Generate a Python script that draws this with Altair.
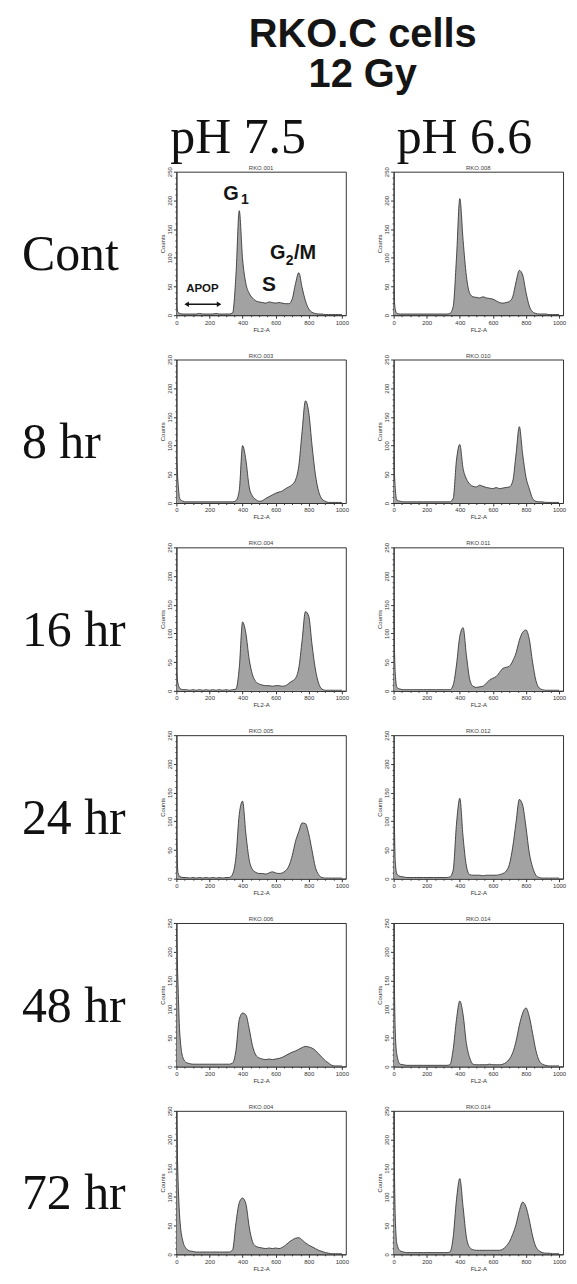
import altair as alt
import pandas as pd

ROWS = ["Cont", "8 hr", "16 hr", "24 hr", "48 hr", "72 hr"]
COLS = ["pH 7.5", "pH 6.6"]
TITLE = ["RKO.C cells", "12 Gy"]

X = [0, 10] + list(range(20, 1001, 20))

CONT_75 = [15, 5,
           3, 2, 2, 2, 2, 2, 3, 2, 2,
           2, 2, 3, 2, 2, 2, 2, 4, 70, 182,
           98, 55, 38, 30, 25, 23, 22, 21, 23, 22,
           21, 22, 21, 20, 20, 28, 55, 74, 48, 25,
           11, 5, 3, 2, 2, 1, 1, 1, 1, 1,
           1]
CONT_66 = [45, 10,
           3, 2, 2, 2, 2, 2, 2, 2, 2,
           2, 2, 2, 2, 2, 2, 2, 3, 15, 100,
           203, 130, 68, 38, 32, 31, 30, 32, 30, 29,
           28, 25, 22, 21, 22, 24, 32, 58, 78, 70,
           40, 16, 6, 3, 2, 2, 2, 1, 1, 1,
           1]
H8_75 = [80, 35,
         8, 3, 2, 2, 2, 2, 2, 2, 2,
         2, 2, 2, 2, 2, 2, 2, 2, 4, 22,
         100, 75, 28, 12, 6, 3, 4, 8, 11, 14,
         17, 19, 21, 25, 28, 32, 40, 65, 125, 178,
         158, 100, 50, 20, 7, 3, 1, 1, 1, 1,
         1]
H8_66 = [85, 25,
         5, 3, 2, 2, 2, 2, 2, 2, 2,
         2, 2, 2, 2, 2, 2, 2, 2, 8, 75,
         102, 60, 42, 33, 29, 28, 31, 29, 27, 26,
         25, 27, 25, 26, 27, 28, 38, 85, 133, 85,
         45, 25, 8, 3, 2, 2, 1, 1, 1, 1,
         1]
H16_75 = [32, 12,
          5, 2, 2, 1, 2, 1, 2, 1, 2,
          1, 2, 1, 2, 1, 2, 1, 2, 3, 40,
          120, 100, 55, 28, 16, 12, 10, 9, 9, 8,
          9, 9, 8, 9, 13, 17, 22, 40, 88, 138,
          130, 80, 38, 13, 3, 1, 1, 1, 1, 1,
          1]
H16_66 = [140, 30,
          6, 3, 2, 2, 2, 2, 2, 2, 2,
          2, 2, 2, 2, 2, 2, 2, 2, 10, 45,
          95, 110, 62, 20, 8, 6, 7, 8, 13, 19,
          22, 25, 32, 39, 41, 43, 52, 66, 88, 102,
          106, 90, 50, 18, 5, 2, 1, 1, 1, 1,
          1]
H24_75 = [70, 10,
          4, 2, 2, 1, 2, 1, 2, 1, 2,
          1, 2, 1, 2, 1, 2, 2, 8, 38, 112,
          135, 78, 33, 16, 11, 9, 9, 8, 10, 12,
          10, 9, 10, 14, 22, 40, 65, 82, 97, 96,
          78, 49, 20, 7, 2, 1, 1, 1, 1, 1,
          1]
H24_66 = [200, 30,
          8, 4, 3, 2, 2, 2, 2, 2, 2,
          2, 2, 2, 2, 2, 2, 2, 3, 15, 95,
          140, 72, 22, 7, 6, 6, 6, 5, 6, 6,
          6, 6, 7, 9, 13, 25, 55, 98, 138, 128,
          90, 45, 20, 6, 2, 1, 1, 1, 1, 1,
          1]
H48_75 = [240, 140,
          60, 15, 7, 5, 4, 4, 4, 4, 4,
          4, 4, 4, 4, 4, 4, 4, 6, 28, 82,
          93, 90, 66, 36, 20, 15, 13, 12, 13, 12,
          13, 14, 16, 19, 22, 25, 27, 30, 33, 35,
          34, 32, 28, 22, 16, 10, 6, 2, 1, 1,
          1]
H48_66 = [250, 60,
          20, 4, 3, 2, 2, 2, 2, 2, 2,
          2, 2, 2, 2, 2, 2, 2, 3, 30, 82,
          114, 90, 40, 15, 4, 3, 3, 3, 3, 4,
          3, 3, 3, 4, 7, 13, 24, 44, 72, 93,
          102, 87, 58, 28, 10, 4, 2, 1, 1, 1,
          1]
H72_75 = [250, 130,
          65, 22, 10, 6, 5, 4, 4, 4, 4,
          4, 4, 4, 4, 4, 4, 4, 8, 55, 90,
          98, 88, 48, 22, 14, 12, 11, 10, 11, 10,
          11, 10, 12, 16, 21, 25, 28, 29, 25, 20,
          16, 13, 10, 7, 5, 3, 2, 1, 1, 1,
          1]
H72_66 = [250, 65,
          18, 6, 4, 3, 3, 3, 3, 3, 3,
          3, 3, 3, 3, 3, 3, 3, 4, 30, 95,
          132, 82, 30, 12, 8, 7, 7, 7, 7, 7,
          7, 7, 7, 9, 14, 22, 35, 52, 76, 91,
          83, 60, 32, 13, 6, 3, 2, 2, 1, 1,
          1]

SERIES = [[CONT_75, CONT_66], [H8_75, H8_66], [H16_75, H16_66],
          [H24_75, H24_66], [H48_75, H48_66], [H72_75, H72_66]]
PANEL_IDS = [["RKO.001", "RKO.008"], ["RKO.003", "RKO.010"], ["RKO.004", "RKO.011"],
             ["RKO.005", "RKO.012"], ["RKO.006", "RKO.014"], ["RKO.004", "RKO.014"]]

# column headings: centre in FL2-A units of the top panels
COLHEAD_X = [373, 428]

# Phase annotations in the control pH 7.5 panel (data units)
ANN_TEXT = ["G", "1", "S", "G", "2", "/M", "APOP"]
ANN_X = [330, 414, 559, 612, 684, 778, 157]
ANN_Y = [201, 193, 42, 98, 88, 98, 40]
ANN_SIZE = [20, 14, 21, 20, 14, 20, 11.5]
ARROW_X = [62, 258]
ARROW_Y = 19

# tick positions (major ones get labels)
X_TICKS = list(range(0, 1001, 50))
Y_TICKS = list(range(0, 251, 10))

recs = []
for ri, r in enumerate(ROWS):
    recs.append(dict(row=r, col=COLS[0], kind="rowlab", text=r))
    for ci, c in enumerate(COLS):
        vals = SERIES[ri][ci]
        assert len(vals) == len(X)
        for xv, yv in zip(X, vals):
            recs.append(dict(row=r, col=c, kind="hist", x=xv, y=yv))
        recs.append(dict(row=r, col=c, kind="id", x=512, text=PANEL_IDS[ri][ci]))
for ci, c in enumerate(COLS):
    recs.append(dict(row=ROWS[0], col=c, kind="colhead", x=COLHEAD_X[ci], text=c))
recs.append(dict(row=ROWS[0], col=COLS[0], kind="title1", text=TITLE[0]))
recs.append(dict(row=ROWS[0], col=COLS[0], kind="title2", text=TITLE[1]))
for t, xv, yv, s in zip(ANN_TEXT, ANN_X, ANN_Y, ANN_SIZE):
    recs.append(dict(row=ROWS[0], col=COLS[0], kind="ann", x=xv, y=yv, text=t, fs=s))
recs.append(dict(row=ROWS[0], col=COLS[0], kind="arrow", x=ARROW_X[0], x2=ARROW_X[1], y=ARROW_Y))
recs.append(dict(row=ROWS[0], col=COLS[0], kind="head", x=ARROW_X[0], y=ARROW_Y, shape="triangle-left"))
recs.append(dict(row=ROWS[0], col=COLS[0], kind="head", x=ARROW_X[1], y=ARROW_Y, shape="triangle-right"))
df = pd.DataFrame(recs)

W, H = 170, 144

xs = alt.Scale(domain=[0, 1024], nice=False, zero=False)
ys = alt.Scale(domain=[0, 250], nice=False)

x_axis = alt.Axis(values=X_TICKS, tickCount=200,
                  labelExpr="datum.value % 200 === 0 ? datum.label : ''",
                  tickSize={"condition": {"test": "datum.value % 200 === 0", "value": 3},
                            "value": 1.5},
                  title="FL2-A", labelFontSize=6, titleFontSize=6, labelOverlap=False,
                  labelPadding=1, titlePadding=1, labelFlush=False, format="d")
y_axis = alt.Axis(values=Y_TICKS, tickCount=200,
                  labelExpr="datum.value % 50 === 0 ? datum.label : ''",
                  tickSize={"condition": {"test": "datum.value % 50 === 0", "value": 3},
                            "value": 1.5},
                  title="Counts", labelFontSize=6, titleFontSize=6, labelOverlap=False,
                  labelAngle=270, labelAlign="center", labelBaseline="bottom",
                  labelPadding=1, titlePadding=1, labelFlush=False, format="d")

base = alt.Chart()


def only(kind):
    return "datum.kind === '%s'" % kind


area = base.mark_area(color="#a2a2a2", opacity=1, interpolate="monotone", clip=True,
                      line={"color": "#383838", "strokeWidth": 0.9}).encode(
    x=alt.X("x:Q", scale=xs, axis=x_axis),
    y=alt.Y("y:Q", scale=ys, axis=y_axis),
).transform_filter(only("hist"))

ids = base.mark_text(fontSize=6, baseline="bottom", dy=-1, color="#444",
                     font="Liberation Sans").encode(
    x="x:Q", y=alt.value(0), text="text:N"
).transform_filter(only("id"))

ann = base.mark_text(font="Liberation Sans", fontWeight="bold", baseline="alphabetic",
                     align="center", color="#151515").encode(
    x="x:Q", y="y:Q", text="text:N", size=alt.Size("fs:Q", scale=None)
).transform_filter(only("ann"))

arrow = base.mark_rule(strokeWidth=1.4, color="#151515").encode(
    x="x:Q", x2="x2:Q", y="y:Q"
).transform_filter(only("arrow"))

heads = base.mark_point(filled=True, size=28, color="#151515", opacity=1).encode(
    x="x:Q", y="y:Q", shape=alt.Shape("shape:N", scale=None)
).transform_filter(only("head"))

rowlab = base.mark_text(font="Liberation Serif", fontSize=50, align="left",
                        baseline="middle", color="#111").encode(
    x=alt.value(-155), y=alt.value(84), text="text:N"
).transform_filter(only("rowlab"))

colhead = base.mark_text(font="Liberation Serif", fontSize=50, align="center",
                         baseline="alphabetic", color="#111").encode(
    x="x:Q", y=alt.value(-19), text="text:N"
).transform_filter(only("colhead"))

title1 = base.mark_text(font="Liberation Sans", fontWeight="bold", fontSize=40,
                        align="center", baseline="alphabetic", color="#151515").encode(
    x=alt.value(187), y=alt.value(-125), text="text:N"
).transform_filter(only("title1"))

title2 = base.mark_text(font="Liberation Sans", fontWeight="bold", fontSize=40,
                        align="center", baseline="alphabetic", color="#151515").encode(
    x=alt.value(187), y=alt.value(-85), text="text:N"
).transform_filter(only("title2"))

panel = alt.layer(area, ids, ann, arrow, heads, rowlab, colhead, title1, title2).properties(
    width=W, height=H)

chart = panel.facet(
    row=alt.Row("row:N", sort=ROWS, title=None, header=alt.Header(labels=False)),
    column=alt.Column("col:N", sort=COLS, title=None, header=alt.Header(labels=False)),
    data=df,
    spacing={"row": 44.5, "column": 48},
    bounds="flush",
).resolve_axis(x="independent", y="independent").properties(
    padding={"left": 13, "top": 4, "right": 2, "bottom": 2},
).configure_view(stroke="#333", strokeWidth=1).configure_axis(
    domainColor="#333", tickColor="#333", labelColor="#333", titleColor="#333",
    labelFont="Liberation Sans", titleFont="Liberation Sans", titleFontWeight="normal",
    grid=False)

chart.save("out.html", embed_options={"renderer": "svg", "actions": False})
